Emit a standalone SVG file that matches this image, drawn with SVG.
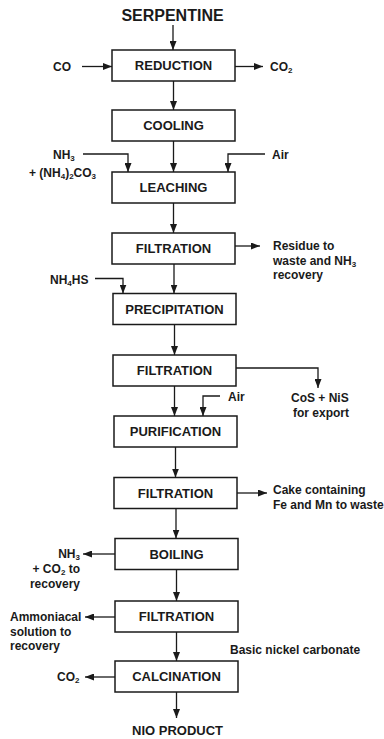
<svg xmlns="http://www.w3.org/2000/svg" width="384" height="739" viewBox="0 0 384 739">
<style>
.box{fill:#fff;stroke:#1a1a1a;stroke-width:1.5}
.lbl{font-family:"Liberation Sans",Arial,sans-serif;font-weight:bold;font-size:13px;fill:#1a1a1a;text-anchor:middle}
.side{font-family:"Liberation Sans",Arial,sans-serif;font-weight:bold;font-size:12px;fill:#1a1a1a}
.big{font-family:"Liberation Sans",Arial,sans-serif;font-weight:bold;font-size:16px;fill:#1a1a1a;text-anchor:middle}
.ln{fill:none;stroke:#1a1a1a;stroke-width:1.3}
.ar{marker-end:url(#ah)}
</style>
<defs>
<marker id="ah" markerWidth="9" markerHeight="7" refX="9" refY="3.5" orient="auto" markerUnits="userSpaceOnUse"><path d="M0,0 L9,3.5 L0,7 z" fill="#1a1a1a"/></marker>
</defs>
<rect width="384" height="739" fill="#fff"/>

<g id="serpentine"><text class="big" x="172.5" y="21">SERPENTINE</text></g>
<g id="reduction"><rect class="box" x="112" y="50" width="123" height="31"/><text class="lbl" x="173.5" y="70.2">REDUCTION</text></g>
<g id="cooling"><rect class="box" x="112" y="110" width="123" height="31"/><text class="lbl" x="173.5" y="130.2">COOLING</text></g>
<g id="leaching"><rect class="box" x="112" y="172" width="123" height="31"/><text class="lbl" x="173.5" y="192.2">LEACHING</text></g>
<g id="filtration1"><rect class="box" x="112" y="233" width="123" height="31"/><text class="lbl" x="173.5" y="253.2">FILTRATION</text></g>
<g id="precipitation"><rect class="box" x="113" y="293.5" width="123" height="31"/><text class="lbl" x="174.5" y="313.7">PRECIPITATION</text></g>
<g id="filtration2"><rect class="box" x="113" y="355" width="123" height="31"/><text class="lbl" x="174.5" y="375.2">FILTRATION</text></g>
<g id="purification"><rect class="box" x="114" y="416" width="123" height="31"/><text class="lbl" x="175.5" y="436.2">PURIFICATION</text></g>
<g id="filtration3"><rect class="box" x="114" y="477.5" width="123" height="31"/><text class="lbl" x="175.5" y="497.7">FILTRATION</text></g>
<g id="boiling"><rect class="box" x="115" y="538.5" width="123" height="31"/><text class="lbl" x="176.5" y="558.7">BOILING</text></g>
<g id="filtration4"><rect class="box" x="115" y="601" width="123" height="31"/><text class="lbl" x="176.5" y="621.2">FILTRATION</text></g>
<g id="calcination"><rect class="box" x="115" y="661" width="123" height="31"/><text class="lbl" x="176.5" y="681.2">CALCINATION</text></g>
<g id="product"><text class="lbl" x="177.5" y="735">NIO PRODUCT</text></g>

<g id="co-in"><text class="side" x="53" y="71">CO</text></g>
<g id="co2-out"><text class="side" x="270" y="71">CO<tspan font-size="8" dy="2">2</tspan></text></g>
<g id="nh3-in"><text class="side" x="53" y="159">NH<tspan font-size="8" dy="2">3</tspan></text><text class="side" x="29" y="177">+ (NH<tspan font-size="8" dy="2">4</tspan><tspan dy="-2">)</tspan><tspan font-size="8" dy="2">2</tspan><tspan dy="-2">CO</tspan><tspan font-size="8" dy="2">3</tspan></text></g>
<g id="air1"><text class="side" x="272" y="159">Air</text></g>
<g id="residue"><text class="side" x="273" y="250">Residue to</text><text class="side" x="273" y="265">waste and NH<tspan font-size="8" dy="2">3</tspan></text><text class="side" x="273" y="279">recovery</text></g>
<g id="nh4hs"><text class="side" x="50" y="284">NH<tspan font-size="8" dy="2">4</tspan><tspan dy="-2">HS</tspan></text></g>
<g id="cos-nis"><text class="side" x="291" y="402">CoS + NiS</text><text class="side" x="293" y="417">for export</text></g>
<g id="air2"><text class="side" x="228" y="401">Air</text></g>
<g id="cake"><text class="side" x="273" y="494">Cake containing</text><text class="side" x="273" y="509">Fe and Mn to waste</text></g>
<g id="nh3-co2"><text class="side" x="80" y="557.5" text-anchor="end">NH<tspan font-size="8" dy="2">3</tspan></text><text class="side" x="80" y="573" text-anchor="end">+ CO<tspan font-size="8" dy="2">2</tspan><tspan dy="-2"> to</tspan></text><text class="side" x="80" y="587.5" text-anchor="end">recovery</text></g>
<g id="ammoniacal"><text class="side" x="10" y="621">Ammoniacal</text><text class="side" x="10" y="636">solution to</text><text class="side" x="10" y="650">recovery</text></g>
<g id="basic-nickel"><text class="side" x="230" y="654">Basic nickel carbonate</text></g>
<g id="co2-calc"><text class="side" x="57" y="681">CO<tspan font-size="8" dy="2">2</tspan></text></g>

<g id="connectors">
<path class="ln ar" d="M173,25 V50"/>
<path class="ln ar" d="M82,66.5 H112"/>
<path class="ln ar" d="M235,66.5 H263"/>
<path class="ln ar" d="M173.5,81 V110"/>
<path class="ln ar" d="M173.5,141 V172"/>
<path class="ln ar" d="M83,154 H128 V172"/>
<path class="ln ar" d="M265,154 H228 V172"/>
<path class="ln ar" d="M173.5,203 V233"/>
<path class="ln ar" d="M235,246 H260"/>
<path class="ln ar" d="M174,264 V293.5"/>
<path class="ln ar" d="M95,278.5 H123 V293.5"/>
<path class="ln ar" d="M174.5,324.5 V355"/>
<path class="ln ar" d="M236,368 H318 V388"/>
<path class="ln ar" d="M174.5,386 V416"/>
<path class="ln ar" d="M220,396 H203 V416"/>
<path class="ln ar" d="M175.5,447 V477.5"/>
<path class="ln ar" d="M237,493 H267"/>
<path class="ln ar" d="M176,508.5 V538.5"/>
<path class="ln ar" d="M115,554 H83"/>
<path class="ln ar" d="M176.5,569.5 V601"/>
<path class="ln ar" d="M115,617 H85"/>
<path class="ln ar" d="M176.5,632 V661"/>
<path class="ln ar" d="M115,677 H85"/>
<path class="ln ar" d="M176.5,692 V718"/>
</g>
</svg>
